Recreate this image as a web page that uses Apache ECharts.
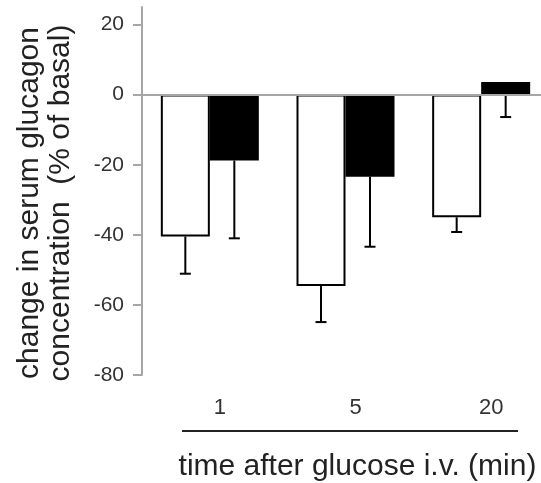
<!DOCTYPE html>
<html>
<head>
<meta charset="utf-8">
<script src="https://cdn.jsdelivr.net/npm/echarts@6/dist/echarts.min.js"></script>
<style>
html,body{margin:0;padding:0;background:#fff;}
#chart{width:541px;height:483px;}
</style>
</head>
<body>
<div id="chart"></div>
<script>
const categories = ['1', '5', '20'];
const whiteValues = [-40.5, -54.6, -35.0];
const whiteErrors = [10.6, 10.3, 4.2];
const blackValues = [-18.8, -23.4, 3.6];
const blackErrors = [22.2, 20.0, 10.0];
const yTicks = [-80, -60, -40, -20, 0, 20];
const yMin = -80;
const yMax = 25;
const xTitle = 'time after glucose i.v. (min)';
const yTitle = 'change in serum glucagon\nconcentration  (% of basal)';

const BAR_W = 49;
const axisGray = '#a6a6a6';
const titleFont = '"Liberation Sans", Arial, sans-serif';

function errData(vals, errs) {
  return vals.map((v, i) => [i, v, errs[i]]);
}
function errRenderer(offset) {
  return function (params, api) {
    const i = api.value(0);
    const v = api.value(1);
    const e = api.value(2);
    const p = api.coord([i, v]);
    const q = api.coord([i, v - e]);
    const x = p[0] + offset;
    const st = { stroke: '#000', lineWidth: 2 };
    return {
      type: 'group',
      children: [
        { type: 'line', shape: { x1: x, y1: p[1], x2: x, y2: q[1] }, style: st },
        { type: 'line', shape: { x1: x - 5.5, y1: q[1], x2: x + 5.5, y2: q[1] }, style: st }
      ]
    };
  };
}

const chart = echarts.init(document.getElementById('chart'), null, { renderer: 'canvas' });
chart.setOption({
  backgroundColor: '#fff',
  animation: false,
  grid: { left: 142, right: -8, top: 7, bottom: 108, containLabel: false, outerBoundsMode: 'none' },
  xAxis: [
    {
      type: 'category', data: categories, position: 'bottom', z: 5,
      axisLine: { show: true, onZero: true, lineStyle: { color: axisGray, width: 2 } },
      axisTick: { show: false }, axisLabel: { show: false }, splitLine: { show: false }
    },
    {
      type: 'category', data: categories, position: 'bottom',
      axisLine: { show: false, onZero: false }, axisTick: { show: false },
      axisLabel: { show: true, fontSize: 22, color: '#333', margin: 22, padding: [0, 0, 0, 20], fontFamily: 'Liberation Sans, Arial, sans-serif' },
      name: xTitle, nameLocation: 'middle', nameGap: 77,
      nameTextStyle: { fontSize: 30, color: '#222', fontFamily: titleFont, padding: [0, 0, 0, 24] }
    }
  ],
  yAxis: {
    type: 'value', min: yMin, max: yMax, interval: 20, position: 'left',
    axisLine: { show: true, lineStyle: { color: axisGray, width: 2 } },
    axisTick: { show: true, length: 9, customValues: yTicks, lineStyle: { color: axisGray, width: 2 } },
    axisLabel: { show: true, customValues: yTicks, fontSize: 21, color: '#333', margin: 18, fontFamily: 'Liberation Sans, Arial, sans-serif' },
    splitLine: { show: false },
    name: yTitle, nameLocation: 'middle', nameGap: 66,
    nameTextStyle: { fontSize: 30, lineHeight: 31, color: '#222', fontFamily: titleFont, padding: [0, 24, 0, 0] }
  },
  graphic: [
    { type: 'line', shape: { x1: 182, y1: 431, x2: 518, y2: 431 }, style: { stroke: '#222', lineWidth: 2 } }
  ],
  series: [
    {
      type: 'bar', name: 'white', data: whiteValues, barWidth: BAR_W, barGap: '0%', z: 3,
      itemStyle: { color: '#fff', borderColor: '#000', borderWidth: 2 }
    },
    {
      type: 'bar', name: 'black', data: blackValues, barWidth: BAR_W, barGap: '0%', z: 3,
      itemStyle: { color: '#000', borderColor: '#000', borderWidth: 2 }
    },
    {
      type: 'custom', name: 'white err', data: errData(whiteValues, whiteErrors), z: 1,
      encode: { x: 0, y: 1 }, renderItem: errRenderer(-BAR_W / 2)
    },
    {
      type: 'custom', name: 'black err', data: errData(blackValues, blackErrors), z: 1,
      encode: { x: 0, y: 1 }, renderItem: errRenderer(BAR_W / 2)
    }
  ]
});
</script>
</body>
</html>
